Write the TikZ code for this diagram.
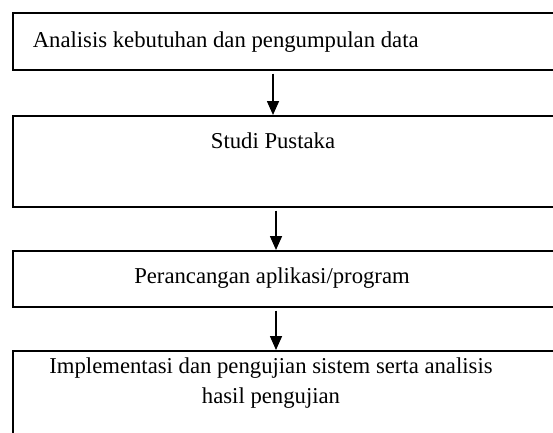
\documentclass[tikz,border=0pt]{standalone}
\usepackage{fontspec}
\setmainfont{Liberation Serif}
\usetikzlibrary{arrows.meta}

\begin{document}
\begin{tikzpicture}[x=1pt, y=-1pt, line width=1.6pt,
   box_style/.style={draw=black, rectangle, anchor=north west, inner sep=0pt, minimum width=600pt},
   text_style/.style={font=\fontsize{22.7}{30}\selectfont, inner sep=0pt},
   arrow_style/.style={draw=black, line width=1.6pt, shorten <=3pt, -{Triangle[width=12pt,length=14pt]}}]
	  \useasboundingbox (0,0) rectangle (553,432);
	  \clip (0,0) rectangle (553,432);

	  % the four steps
	  \node [box_style, minimum height=57pt] (b1) at (12,12) {};
	  \node [box_style, minimum height=91pt] (b2) at (12,115) {};
	  \node [box_style, minimum height=56pt] (b3) at (12,250) {};
	  \node [box_style, minimum height=150pt] (b4) at (12,350) {};

	  \node [text_style, anchor=base west] (t1) at (32,47) {Analisis kebutuhan dan pengumpulan data};
	  \node [text_style, anchor=base] (t2) at (273,148) {Studi Pustaka};
	  \node [text_style, anchor=base] (t3) at (272,283) {Perancangan aplikasi/program};
	  \node [text_style, anchor=north, align=center] (t4) at (271,357) {Implementasi dan pengujian sistem serta analisis\\hasil pengujian};

	  \coordinate (ax1) at (273,0);
	  \coordinate (ax2) at (276,0);

	  \draw [arrow_style] (b1.south -| ax1) -- (b2.north -| ax1);
	  \foreach \from/\to in {b2/b3, b3/b4}
	    \draw [arrow_style] (\from.south -| ax2) -- (\to.north -| ax2);

	\end{tikzpicture}
\end{document}
